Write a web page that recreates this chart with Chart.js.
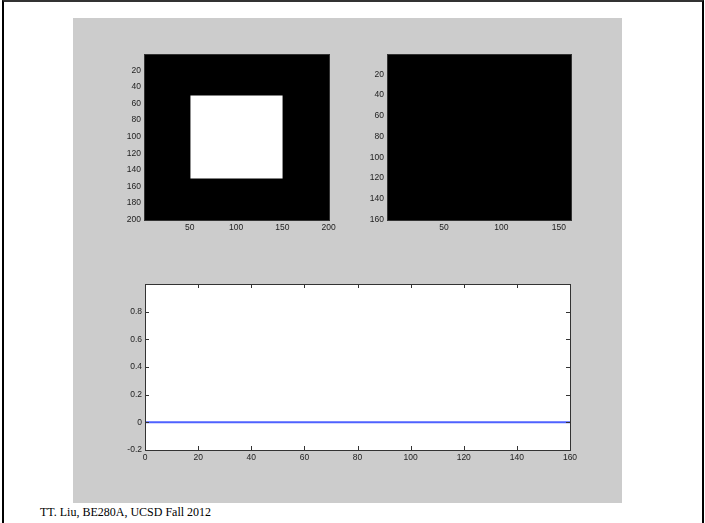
<!DOCTYPE html>
<html>
<head>
<meta charset="utf-8">
<script src="https://cdn.jsdelivr.net/npm/chart.js@4.4.1/dist/chart.umd.min.js"></script>
<style>
  html, body { margin: 0; padding: 0; background: #fff; }
  body { width: 705px; height: 523px; position: relative; overflow: hidden; }
  #frame { position: absolute; left: 2px; top: 0px; width: 698px; height: 530px;
           border-left: 2px solid #000; border-top: 2px solid #333; border-right: 2px solid #000; }
  #figure { position: absolute; left: 73px; top: 18px; width: 549px; height: 485px; background: #cccccc; }
  canvas { position: absolute; }
  #footer { position: absolute; left: 40px; top: 505px; font-family: "Liberation Serif", serif;
            font-size: 12px; color: #000; }
</style>
</head>
<body>
<div id="frame"></div>
<div id="figure"></div>
<canvas id="imgLeft"></canvas>
<canvas id="imgRight"></canvas>
<canvas id="profile"></canvas>
<div id="footer">TT. Liu, BE280A, UCSD Fall 2012</div>
<script>
// left image: 200x200, ones inside the square, zeros elsewhere
const leftImgSize = 200;
const leftSquare = [51, 150];
const leftXTicks = [50, 100, 150, 200];
const leftYTicks = [20, 40, 60, 80, 100, 120, 140, 160, 180, 200];

// right image: 160x160, all zeros
const rightImgSize = 160;
const rightXTicks = [50, 100, 150];
const rightYTicks = [20, 40, 60, 80, 100, 120, 140, 160];

// bottom profile
const profileX = [0, 20, 40, 60, 80, 100, 120, 140, 160];
const profileY = [0, 0, 0, 0, 0, 0, 0, 0, 0];
const plotXTicks = [0, 20, 40, 60, 80, 100, 120, 140, 160];
const plotYTicks = [-0.2, 0, 0.2, 0.4, 0.6, 0.8];

const tickFont = { family: 'Liberation Sans, Arial, sans-serif', size: 8.5 };
const tickColor = '#222';

function place(id, x, y, w, h) {
    const c = document.getElementById(id);
    const cw = w + 40 + 15, ch = h + 10 + 25;
    c.width = cw; c.height = ch;
    c.style.left = (x - 40) + 'px';
    c.style.top = (y - 10) + 'px';
    c.style.width = cw + 'px';
    c.style.height = ch + 'px';
    return c.getContext('2d');
}

function axis(min, max, ticks, opts) {
    return Object.assign({
        type: 'linear',
        min: min,
        max: max,
        grid: { display: false, drawTicks: false },
        border: { display: false },
        ticks: { font: tickFont, color: tickColor, padding: 3, autoSkip: false, maxRotation: 0 },
        afterBuildTicks: s => { s.ticks = ticks.map(v => ({ value: v })); }
    }, opts);
}

const boxPlugin = {
    id: 'box',
    beforeDraw(chart, args, o) {
        const a = chart.chartArea, ctx = chart.ctx;
        ctx.save();
        ctx.fillStyle = o.bg;
        ctx.fillRect(a.left, a.top, a.right - a.left, a.bottom - a.top);
        ctx.restore();
    },
    afterDraw(chart, args, o) {
        const a = chart.chartArea, ctx = chart.ctx;
        ctx.save();
        ctx.strokeStyle = '#333';
        ctx.lineWidth = 1;
        if (o.ticks) {
            const xs = chart.scales.x, ys = chart.scales.y;
            ctx.beginPath();
            xs.ticks.forEach(t => {
                const px = Math.round(xs.getPixelForValue(t.value)) + 0.5;
                ctx.moveTo(px, a.top); ctx.lineTo(px, a.top + 4);
                ctx.moveTo(px, a.bottom); ctx.lineTo(px, a.bottom - 4);
            });
            ys.ticks.forEach(t => {
                const py = Math.round(ys.getPixelForValue(t.value)) + 0.5;
                ctx.moveTo(a.left, py); ctx.lineTo(a.left + 4, py);
                ctx.moveTo(a.right, py); ctx.lineTo(a.right - 4, py);
            });
            ctx.stroke();
        }
        ctx.strokeRect(Math.round(a.left) + 0.5, Math.round(a.top) + 0.5,
                       Math.round(a.right - a.left), Math.round(a.bottom - a.top));
        ctx.restore();
    }
};

function baseOptions(xScale, yScale, bg, ticks) {
    return {
        responsive: false,
        animation: false,
        devicePixelRatio: 1,
        layout: { padding: { top: 10, right: 15, left: 0, bottom: 0 } },
        plugins: { legend: { display: false }, tooltip: { enabled: false }, box: { bg: bg, ticks: ticks } },
        scales: { x: xScale, y: yScale }
    };
}

function fixY(s) { s.width = 40; }
function fixX(s) { s.height = 25; }

// left image
const lo = leftSquare[0] - 0.5, hi = leftSquare[1] + 0.5;
new Chart(place('imgLeft', 144, 54, 185, 166), {
    type: 'line',
    data: {
        datasets: [
            { data: [{ x: lo, y: lo }, { x: hi, y: lo }], borderWidth: 0, pointRadius: 0, fill: false },
            { data: [{ x: lo, y: hi }, { x: hi, y: hi }], borderWidth: 0, pointRadius: 0,
              fill: '-1', backgroundColor: '#ffffff' }
        ]
    },
    options: baseOptions(
        axis(0.5, leftImgSize + 0.5, leftXTicks, { afterFit: fixX }),
        axis(0.5, leftImgSize + 0.5, leftYTicks, { reverse: true, afterFit: fixY }),
        '#000', false),
    plugins: [boxPlugin]
});

// right image
new Chart(place('imgRight', 387, 54, 184, 166), {
    type: 'line',
    data: { datasets: [] },
    options: baseOptions(
        axis(0.5, rightImgSize + 0.5, rightXTicks, { afterFit: fixX }),
        axis(0.5, rightImgSize + 0.5, rightYTicks, { reverse: true, afterFit: fixY }),
        '#000', false),
    plugins: [boxPlugin]
});

// profile plot
new Chart(place('profile', 145, 284, 425, 166), {
    type: 'line',
    data: {
        datasets: [{
            data: profileX.map((x, i) => ({ x: x, y: profileY[i] })),
            borderColor: '#4f62ff',
            borderWidth: 2,
            pointRadius: 0,
            fill: false
        }]
    },
    options: baseOptions(
        axis(0, 160, plotXTicks, { afterFit: fixX }),
        axis(-0.2, 1, plotYTicks, { afterFit: fixY }),
        '#fff', true),
    plugins: [boxPlugin]
});
</script>
</body>
</html>
